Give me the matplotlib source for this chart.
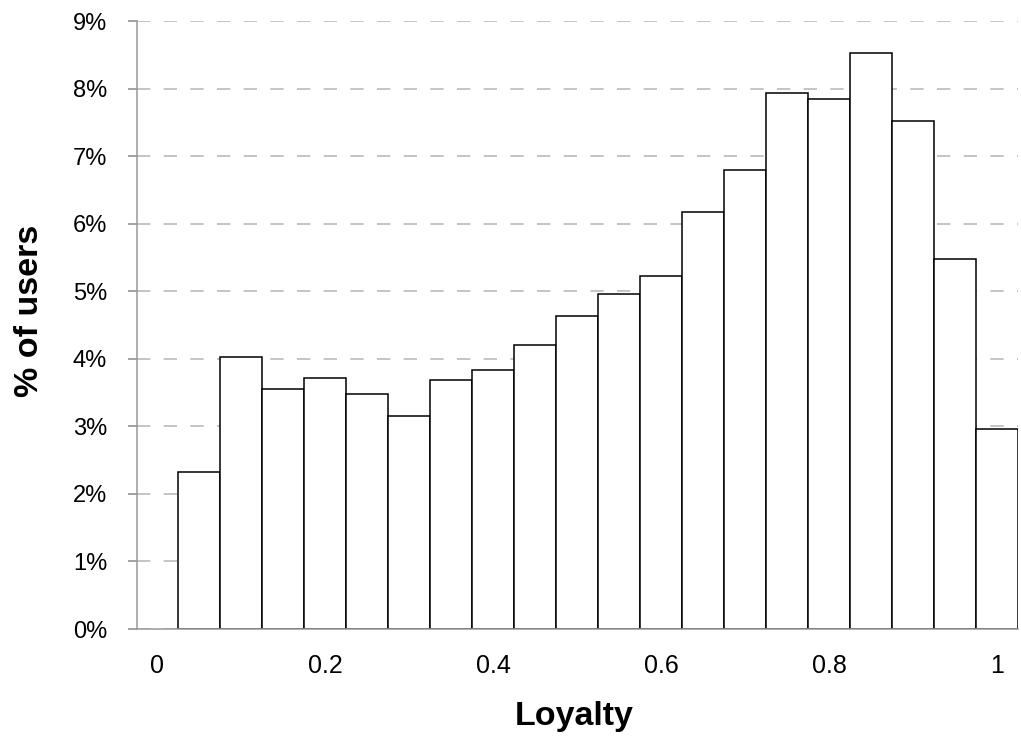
import matplotlib
matplotlib.use("Agg")
import matplotlib.pyplot as plt
from matplotlib.ticker import FuncFormatter

plt.rcParams['font.family'] = ['Liberation Sans', 'DejaVu Sans']
plt.rcParams['lines.scale_dashes'] = False

loyalty = [0.05, 0.10, 0.15, 0.20, 0.25, 0.30, 0.35, 0.40, 0.45, 0.50,
           0.55, 0.60, 0.65, 0.70, 0.75, 0.80, 0.85, 0.90, 0.95, 1.00]
pct_users = [2.32, 4.03, 3.56, 3.72, 3.48, 3.15, 3.68, 3.83, 4.20, 4.63,
             4.96, 5.22, 6.17, 6.80, 7.93, 7.84, 8.52, 7.52, 5.48, 2.96]
x_ticks = [0, 0.2, 0.4, 0.6, 0.8, 1]
x_tick_labels = ['0', '0.2', '0.4', '0.6', '0.8', '1']
y_ticks = [0, 1, 2, 3, 4, 5, 6, 7, 8, 9]
bin_width = 0.05

fig = plt.figure(figsize=(10.21, 7.38), dpi=100)
ax = fig.add_axes([137/1021, 1-629/738, (1018-137)/1021, (629-21)/738])

ax.bar(loyalty, pct_users, width=bin_width, color='white', edgecolor='black',
       linewidth=1.1, zorder=3)

ax.set_xlim(-0.0238, 1.025)
ax.set_ylim(0, 9)
ax.set_xticks(x_ticks)
ax.set_xticklabels(x_tick_labels)
ax.set_yticks(y_ticks)
ax.yaxis.set_major_formatter(FuncFormatter(lambda v, p: f"{int(round(v))}%"))

ax.yaxis.grid(True, color='#b4b4b4', linewidth=1.1, linestyle=(0, (9.6, 9.6)), zorder=0)
ax.set_axisbelow(True)

for s in ['top', 'right']:
    ax.spines[s].set_visible(False)
for s in ['left', 'bottom']:
    ax.spines[s].set_color('#999999')
    ax.spines[s].set_linewidth(1.1)
    ax.spines[s].set_zorder(4)

ax.tick_params(axis='x', length=0, pad=18, labelsize=18)
ax.tick_params(axis='y', length=6.5, width=1.1, color='#888888', pad=15, labelsize=17)

fig.text(574/1021, 1-717/738, 'Loyalty', ha='center', va='center',
         fontsize=24.5, fontweight='bold')
fig.text(30/1021, 1-311/738, '% of users', ha='center', va='center',
         rotation=90, fontsize=24.5, fontweight='bold')

fig.savefig('out.png', dpi=100)
